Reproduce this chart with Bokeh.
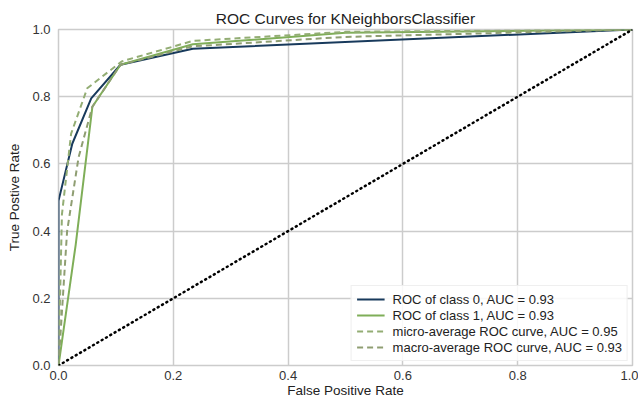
from bokeh.plotting import figure
from bokeh.embed import file_html
from bokeh.resources import INLINE
from bokeh.models import FixedTicker, PrintfTickFormatter, Range1d, Legend, LegendItem

# ---- data ----
class0_fpr = [0.0, 0.0, 0.024, 0.057, 0.108, 0.234, 1.0]
class0_tpr = [0.0, 0.49, 0.66, 0.795, 0.895, 0.943, 1.0]

class1_fpr = [0.0, 0.03, 0.059, 0.108, 0.234, 0.5, 1.0]
class1_tpr = [0.0, 0.36, 0.77, 0.895, 0.956, 0.99, 1.0]

micro_fpr = [0.0, 0.006, 0.022, 0.05, 0.11, 0.234, 0.5, 1.0]
micro_tpr = [0.0, 0.45, 0.69, 0.825, 0.905, 0.966, 0.993, 1.0]

macro_fpr = [0.0, 0.015, 0.035, 0.059, 0.108, 0.234, 0.5, 1.0]
macro_tpr = [0.0, 0.40, 0.62, 0.77, 0.895, 0.95, 0.978, 1.0]

diag = [0.0, 1.0]

ticks = [0.0, 0.2, 0.4, 0.6, 0.8, 1.0]

labels = [
    "ROC of class 0, AUC = 0.93",
    "ROC of class 1, AUC = 0.93",
    "micro-average ROC curve, AUC = 0.95",
    "macro-average ROC curve, AUC = 0.93",
]

FONT = "Liberation Sans"

p = figure(frame_width=574, frame_height=336, output_backend="svg", toolbar_location=None,
           x_range=Range1d(0, 1), y_range=Range1d(0, 1),
           title="ROC Curves for KNeighborsClassifier",
           min_border_left=58, min_border_right=6, min_border_top=29, min_border_bottom=33)

p.title.align = "center"
p.title.text_font = FONT
p.title.text_font_size = "15.5px"
p.title.text_font_style = "normal"
p.title.text_color = "#222222"
p.title.offset = 0
p.title.standoff = 5

p.outline_line_color = "#cccccc"
p.outline_line_width = 1.5
p.background_fill_color = "white"
p.border_fill_color = "white"

for ax in (p.xaxis[0], p.yaxis[0]):
    ax.ticker = FixedTicker(ticks=ticks)
    ax.formatter = PrintfTickFormatter(format="%.1f")
    ax.major_tick_line_color = None
    ax.minor_tick_line_color = None
    ax.major_tick_out = 0
    ax.major_tick_in = 0
    ax.minor_tick_out = 0
    ax.axis_line_color = None
    ax.major_label_text_font = FONT
    ax.major_label_text_font_size = "13px"
    ax.major_label_text_color = "#333333"
    ax.axis_label_text_font = FONT
    ax.axis_label_text_font_size = "13.5px"
    ax.axis_label_text_font_style = "normal"
    ax.axis_label_text_color = "#222222"

p.xaxis.axis_label = "False Positive Rate"
p.yaxis.axis_label = "True Postive Rate"
p.xaxis.major_label_standoff = 5
p.xaxis.axis_label_standoff = 0
p.yaxis.major_label_standoff = 8
p.yaxis.axis_label_standoff = 7

for g in (p.xgrid[0], p.ygrid[0]):
    g.ticker = FixedTicker(ticks=ticks)
    g.grid_line_color = "#cccccc"
    g.grid_line_width = 1.5

NAVY = "#183a5c"
GREEN = "#7fae58"
MICRO = "#93ad74"
MACRO = "#8f9e72"

r0 = p.line(class0_fpr, class0_tpr, line_color=NAVY, line_width=2)
r1 = p.line(class1_fpr, class1_tpr, line_color=GREEN, line_width=2)
r2 = p.line(micro_fpr, micro_tpr, line_color=MICRO, line_width=2, line_dash="6 4")
r3 = p.line(macro_fpr, macro_tpr, line_color=MACRO, line_width=2, line_dash="6 4")
p.line(diag, diag, line_color="black", line_width=2.5, line_dash="1 4", line_cap="round")

legend = Legend(items=[LegendItem(label=labels[i], renderers=[r]) for i, r in enumerate([r0, r1, r2, r3])],
                location="bottom_right")
legend.label_text_font = FONT
legend.label_text_font_size = "13px"
legend.label_text_color = "#222222"
legend.glyph_width = 28
legend.glyph_height = 16
legend.label_height = 16
legend.spacing = 0
legend.padding = 5
legend.margin = 4
legend.label_standoff = 8
legend.background_fill_color = "white"
legend.background_fill_alpha = 0.85
legend.border_line_color = "#e0e0e0"
legend.border_line_width = 1
p.add_layout(legend)

open("out.html", "w").write(file_html(p, INLINE))
